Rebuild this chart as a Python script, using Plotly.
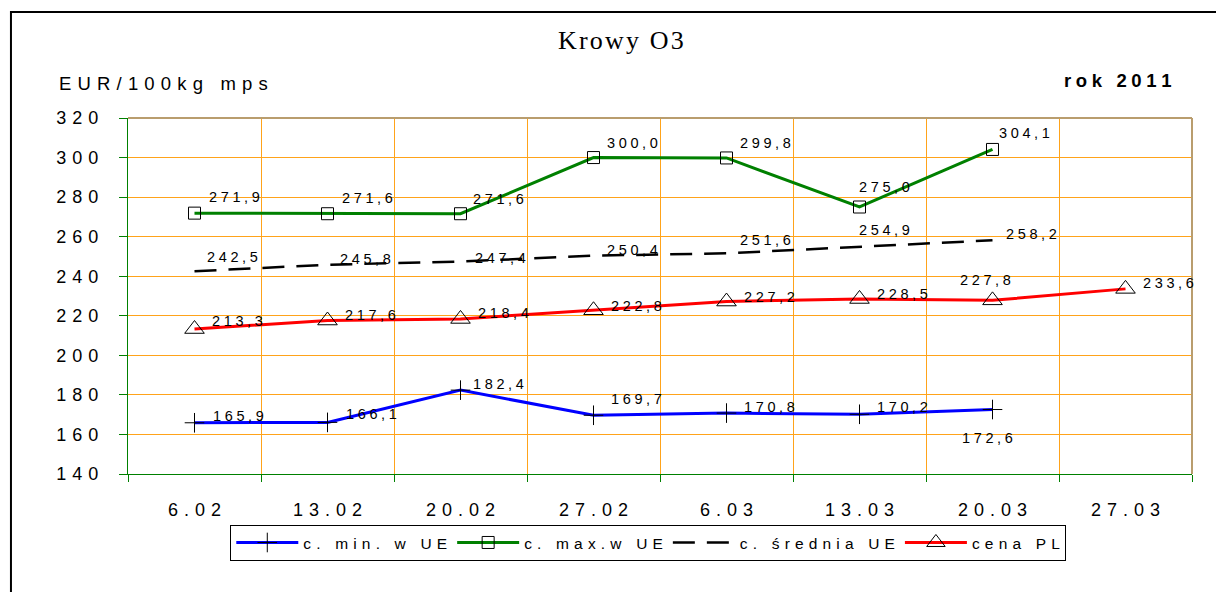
import plotly.graph_objects as go

categories = ["6.02", "13.02", "20.02", "27.02", "6.03", "13.03", "20.03", "27.03"]
c_min = [165.9, 166.1, 182.4, 169.7, 170.8, 170.2, 172.6]
c_max = [271.9, 271.6, 271.6, 300.0, 299.8, 275.0, 304.1]
c_mean = [242.5, 245.8, 247.4, 250.4, 251.6, 254.9, 258.2]
c_pl = [213.3, 217.6, 218.4, 222.8, 227.2, 228.5, 227.8, 233.6]
y_ticks = [140, 160, 180, 200, 220, 240, 260, 280, 300, 320]
legend_names = ["c. min. w UE", "c. max.w UE", "c. średnia UE", "cena PL"]

EN = "\u2002"
TPM = "\u2004"
FPM = "\u2005"
SPM = "\u2006"
HAIR = "\u200a"


def spaced(s, sep):
    return sep.join(list(s))


def num(v):
    return spaced(f"{v:.1f}".replace(".", ","), FPM)


FONT = "Liberation Sans, Arial, sans-serif"

fig = go.Figure()

styles = [
    dict(color="#0000FF", symbol="cross-thin-open", size=14, dash="solid", width=3),
    dict(color="#008000", symbol="square-open", size=12, dash="solid", width=3),
    dict(color="#000000", symbol=None, size=0, dash="22px,12px", width=2.5),
    dict(color="#FF0000", symbol="triangle-up-open", size=17, dash="solid", width=3),
]
values = [c_min, c_max, c_mean, c_pl]

for name, vals, s in zip(legend_names, values, styles):
    xs = categories[: len(vals)]
    if s["symbol"]:
        mode = "lines+markers"
        marker = dict(symbol=s["symbol"], size=s["size"], color="black", line=dict(width=1, color="black"))
    else:
        mode = "lines"
        marker = None
    fig.add_trace(go.Scatter(
        x=xs, y=vals, mode=mode, name=spaced(name, TPM),
        line=dict(color=s["color"], width=s["width"], dash=s["dash"]),
        marker=marker,
    ))

# label offsets (pixels, right / up-negative) per point
off_min = [(16, -7), (16, -8), (10, -6), (15, -16), (15, -6), (15, -7), (-33, 28)]
off_max = [(12, -16), (12, -16), (10, -15), (11, -15), (11, -15), (-3, -20), (4, -16)]
off_mean = [(10, -14), (10, -6), (12, -4), (11, -6), (11, -13), (-3, -17), (11, -6)]
off_pl = [(15, -8), (15, -6), (15, -6), (15, -4), (15, -5), (15, -5), (-35, -20), (15, -6)]

annotations = []
for vals, offs in zip(values, [off_min, off_max, off_mean, off_pl]):
    for i, v in enumerate(vals):
        annotations.append(dict(
            x=i, y=v, xref="x", yref="y", text=num(v), showarrow=False,
            xanchor="left", yanchor="middle", xshift=offs[i][0], yshift=-offs[i][1],
            font=dict(family=FONT, size=14.5, color="black"),
        ))

annotations.append(dict(x=0.4633, y=1.2163, xref="paper", yref="paper", text=spaced("Krowy O3", HAIR),
                        showarrow=False, xanchor="center", yanchor="middle",
                        font=dict(family="Liberation Serif, Times New Roman, serif", size=26, color="black")))
annotations.append(dict(x=-0.0667, y=1.098, xref="paper", yref="paper", text=spaced("EUR/100kg mps", TPM),
                        showarrow=False, xanchor="left", yanchor="middle",
                        font=dict(family=FONT, size=18.5, color="black")))
annotations.append(dict(x=0.982, y=1.104, xref="paper", yref="paper", text="<b>" + spaced("rok 2011", FPM) + "</b>",
                        showarrow=False, xanchor="right", yanchor="middle",
                        font=dict(family=FONT, size=18.5, color="black")))

shapes = [
    dict(type="rect", xref="paper", yref="paper", x0=-0.110, x1=1.08, y0=-0.45, y1=1.2978,
         line=dict(color="black", width=2), layer="below"),
    dict(type="line", xref="paper", yref="paper", x0=0, x1=1, y0=1, y1=1, line=dict(color="#B99D6E", width=2)),
    dict(type="line", xref="paper", yref="paper", x0=1, x1=1, y0=0, y1=1, line=dict(color="#B99D6E", width=2)),
]

# the page body adds an 8px offset, so margins are shifted by 8px
fig.update_layout(
    width=1224, height=592,
    margin=dict(l=120, r=40, t=110, b=126),
    paper_bgcolor="white", plot_bgcolor="white",
    showlegend=True,
    legend=dict(orientation="h", x=0.489, y=-0.143, xanchor="center", yanchor="top",
                bordercolor="black", borderwidth=1, font=dict(family=FONT, size=15.5, color="black"),
                itemwidth=62, tracegroupgap=0),
    annotations=annotations,
    shapes=shapes,
    font=dict(family=FONT, color="black"),
)

fig.update_xaxes(
    type="category", categoryorder="array", categoryarray=categories,
    range=[-0.5, 7.5], tickson="boundaries",
    tickvals=categories, ticktext=[spaced(c, TPM) for c in categories],
    showgrid=True, gridcolor="#FFA31A", gridwidth=1,
    showline=True, linecolor="#008000", linewidth=1,
    ticks="outside", ticklen=7, tickcolor="#008000",
    tickfont=dict(family=FONT, size=18, color="black"),
    ticklabelstandoff=19, zeroline=False,
)
fig.update_yaxes(
    range=[140, 320], tickvals=y_ticks, ticktext=[spaced(str(t), TPM) for t in y_ticks],
    showgrid=True, gridcolor="#FFA31A", gridwidth=1,
    showline=True, linecolor="#008000", linewidth=1,
    ticks="outside", ticklen=8, tickcolor="#008000",
    tickfont=dict(family=FONT, size=18, color="black"),
    ticklabelstandoff=17, zeroline=False,
)

fig.write_html("out.html")
